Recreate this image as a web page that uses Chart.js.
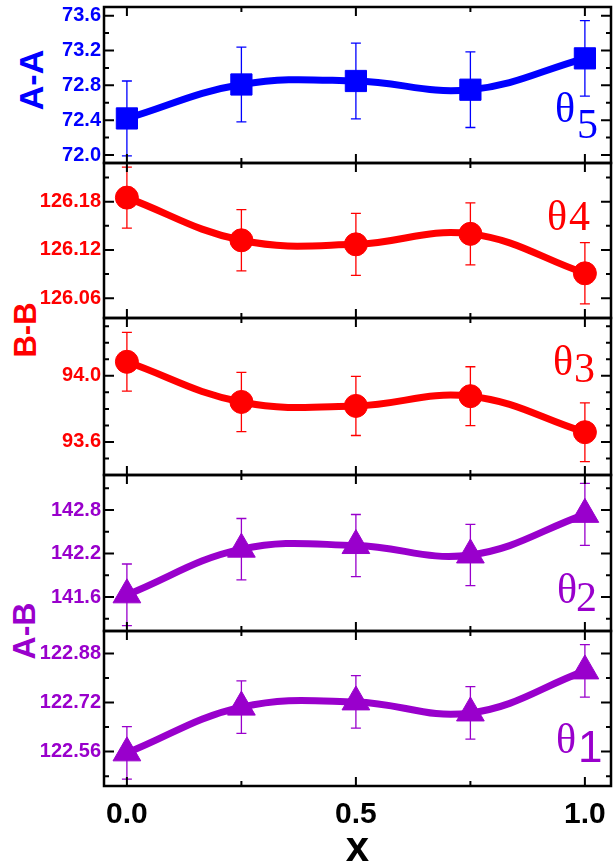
<!DOCTYPE html>
<html>
<head>
<meta charset="utf-8">
<script src="https://cdn.jsdelivr.net/npm/chart.js@4.4.1/dist/chart.umd.min.js"></script>
<style>
  body { margin: 0; background: #fff; overflow: hidden; }
  #wrap { position: relative; width: 616px; height: 868px; }
  #wrap canvas { position: absolute; left: 0; }
  .ylab {
    position: absolute;
    font-family: "Liberation Sans", Arial, sans-serif;
    font-weight: bold;
    line-height: 1;
    white-space: nowrap;
    transform: translate(-50%, -50%) rotate(-90deg);
  }
</style>
</head>
<body>
<div id="wrap">
  <div class="ylab" style="left:31px;top:80px;color:#0000ff;font-size:34px">A-A</div>
  <div class="ylab" style="left:25px;top:330px;color:#ff0000;font-size:31px">B-B</div>
  <div class="ylab" style="left:24px;top:631px;color:#9900cc;font-size:32px">A-B</div>
</div>
<script>
"use strict";
// x positions (shared)
var xValues = [0, 0.25, 0.5, 0.75, 1.0];
var xTicks = [0, 0.5, 1.0];
var xMinorTicks = [0.25, 0.75];

// A-A, theta5
var theta5 = [72.42, 72.81, 72.85, 72.75, 73.11];
var theta5Err = [0.43, 0.43, 0.434, 0.434, 0.434];
var aaTicks = [72.0, 72.4, 72.8, 73.2, 73.6];

// B-B, theta4
var theta4 = [126.185, 126.132, 126.127, 126.140, 126.091];
var theta4Err = [0.038, 0.038, 0.0385, 0.0385, 0.038];
var bb4Ticks = [126.06, 126.12, 126.18];

// B-B, theta3
var theta3 = [94.085, 93.842, 93.818, 93.877, 93.659];
var theta3Err = [0.178, 0.179, 0.179, 0.178, 0.178];
var bb3Ticks = [93.6, 94.0];

// A-B, theta2
var theta2 = [141.63, 142.26, 142.31, 142.18, 142.74];
var theta2Err = [0.425, 0.423, 0.428, 0.423, 0.428];
var ab2Ticks = [141.6, 142.2, 142.8];

// A-B, theta1
var theta1 = [122.556, 122.705, 122.722, 122.686, 122.823];
var theta1Err = [0.0855, 0.0855, 0.0855, 0.0855, 0.0857];
var ab1Ticks = [122.56, 122.72, 122.88];

var BLUE = "#0000ff";
var RED = "#ff0000";
var PURPLE = "#9900cc";

Chart.defaults.font.family = '"Liberation Sans", Arial, sans-serif';

var panels = [
  { top: 7, bottom: 163, color: BLUE, values: theta5, errors: theta5Err, ticks: aaTicks,
    min: 71.908, max: 73.70, minor: 0.2, digits: 1, point: "rect", radius: 15,
    sub: "5", thetaX: 555, thetaY: 115, subX: 577, subY: 131, subFont: '42px "Liberation Serif"' },
  { top: 163, bottom: 318, color: RED, values: theta4, errors: theta4Err, ticks: bb4Ticks,
    min: 126.0355, max: 126.228, minor: 0.03, digits: 2, point: "circle", radius: 11.5,
    sub: "4", thetaX: 547, thetaY: 67, subX: 569, subY: 67, subFont: '42px "Liberation Serif"' },
  { top: 318, bottom: 475, color: RED, values: theta3, errors: theta3Err, ticks: bb3Ticks,
    min: 93.40, max: 94.35, minor: 0.1, digits: 1, point: "circle", radius: 11.5,
    sub: "3", thetaX: 553, thetaY: 57, subX: 574, subY: 64, subFont: '42px "Liberation Serif"' },
  { top: 475, bottom: 631, color: PURPLE, values: theta2, errors: theta2Err, ticks: ab2Ticks,
    min: 141.131, max: 143.283, minor: 0.3, digits: 1, point: "triangle", radius: 16,
    sub: "2", thetaX: 557, thetaY: 128, subX: 576, subY: 136, subFont: '42px "Liberation Serif"' },
  { top: 631, bottom: 786, color: PURPLE, values: theta1, errors: theta1Err, ticks: ab1Ticks,
    min: 122.448, max: 122.953, minor: 0.08, digits: 2, point: "triangle", radius: 16,
    sub: "1", thetaX: 556, thetaY: 122, subX: 578, subY: 131, subFont: '44px "Liberation Sans"' }
];

function makePanelPlugin(p) {
  return {
    id: "panelDeco",
    beforeDatasetsDraw: function (chart) {
      // error bars
      var ctx = chart.ctx;
      var xs = chart.scales.x;
      var ys = chart.scales.y;
      ctx.save();
      ctx.strokeStyle = p.color;
      ctx.lineWidth = 1.3;
      ctx.beginPath();
      xValues.forEach(function (xv, i) {
        var px = xs.getPixelForValue(xv);
        var top = ys.getPixelForValue(p.values[i] + p.errors[i]);
        var bot = ys.getPixelForValue(p.values[i] - p.errors[i]);
        ctx.moveTo(px, top);
        ctx.lineTo(px, bot);
        ctx.moveTo(px - 5, top);
        ctx.lineTo(px + 5, top);
        ctx.moveTo(px - 5, bot);
        ctx.lineTo(px + 5, bot);
      });
      ctx.stroke();
      ctx.restore();
    },
    afterDatasetsDraw: function (chart) {
      var ctx = chart.ctx;
      var a = chart.chartArea;
      var xs = chart.scales.x;
      var ys = chart.scales.y;
      ctx.save();
      ctx.strokeStyle = "#000";
      ctx.lineWidth = 2;
      ctx.beginPath();
      // inward x ticks, top and bottom
      xTicks.concat(xMinorTicks).forEach(function (v) {
        var len = xTicks.indexOf(v) >= 0 ? 9 : 5;
        var px = xs.getPixelForValue(v);
        ctx.moveTo(px, a.bottom);
        ctx.lineTo(px, a.bottom - len);
        ctx.moveTo(px, a.top);
        ctx.lineTo(px, a.top + len);
      });
      // inward y ticks, left and right
      for (var k = Math.ceil(p.min / p.minor); k * p.minor < p.max; k++) {
        var v = k * p.minor;
        if (v <= p.min + p.minor * 0.1) continue;
        var major = p.ticks.some(function (t) { return Math.abs(t - v) < p.minor / 10; });
        var len = major ? 10 : 5;
        var py = ys.getPixelForValue(v);
        ctx.moveTo(a.left, py);
        ctx.lineTo(a.left + len, py);
        ctx.moveTo(a.right, py);
        ctx.lineTo(a.right - len, py);
      }
      ctx.stroke();
      // frame
      ctx.lineWidth = 2.5;
      ctx.strokeRect(a.left, a.top, a.right - a.left, a.bottom - a.top);
      // theta label
      ctx.fillStyle = p.color;
      ctx.textAlign = "left";
      ctx.textBaseline = "alphabetic";
      ctx.font = '42px "Liberation Serif"';
      ctx.fillText("\u03b8", p.thetaX, a.top + p.thetaY);
      ctx.font = p.subFont;
      ctx.fillText(p.sub, p.subX, a.top + p.subY);
      ctx.restore();
    }
  };
}

var wrap = document.getElementById("wrap");
var PAD = 16;

panels.forEach(function (p, n) {
  var isLast = n === panels.length - 1;
  var canvasTop = p.top - PAD;
  var canvasH = isLast ? 868 - canvasTop : p.bottom - p.top + 2 * PAD;
  var canvas = document.createElement("canvas");
  canvas.width = 616;
  canvas.height = canvasH;
  canvas.style.top = canvasTop + "px";
  wrap.appendChild(canvas);

  new Chart(canvas, {
    type: "line",
    data: {
      datasets: [
        {
          data: xValues.map(function (x, i) { return { x: x, y: p.values[i] }; }),
          borderColor: p.color,
          backgroundColor: p.color,
          borderWidth: 7,
          tension: 0.4,
          fill: false,
          pointStyle: p.point,
          pointRadius: p.radius,
          pointBackgroundColor: p.color,
          pointBorderColor: p.color,
          pointBorderWidth: 1,
          clip: false,
        },
      ],
    },
    options: {
      responsive: false,
      animation: false,
      layout: {
        autoPadding: false,
        padding: { left: 0, right: 5, top: PAD, bottom: isLast ? 0 : PAD },
      },
      plugins: {
        legend: { display: false },
        tooltip: { enabled: false },
      },
      scales: {
        x: {
          type: "linear",
          min: -0.05,
          max: 1.057,
          display: isLast,
          afterBuildTicks: function (scale) {
            scale.ticks = xTicks.map(function (v) { return { value: v }; });
          },
          afterFit: function (scale) {
            scale.paddingLeft = 0;
            scale.paddingRight = 0;
            if (isLast) scale.height = 82;
          },
          grid: { display: false, drawTicks: false },
          border: { display: false },
          ticks: {
            padding: 11,
            color: "#000",
            font: { size: 30, weight: "bold" },
            maxRotation: 0,
            callback: function (value) {
              return Number(value).toFixed(1);
            },
          },
          title: {
            display: isLast,
            text: "x",
            color: "#000",
            font: { size: 42, weight: "bold", lineHeight: 0.9 },
            padding: 0,
          },
        },
        y: {
          min: p.min,
          max: p.max,
          afterBuildTicks: function (scale) {
            scale.ticks = p.ticks.map(function (v) { return { value: v }; });
          },
          afterFit: function (scale) {
            scale.paddingTop = 0;
            scale.paddingBottom = 0;
            scale.width = 104;
          },
          grid: { display: false, drawTicks: false },
          border: { display: false },
          ticks: {
            padding: 3,
            color: p.color,
            font: { size: 20, weight: "bold" },
            callback: function (value) {
              return Number(value).toFixed(p.digits);
            },
          },
        },
      },
    },
    plugins: [makePanelPlugin(p)],
  });
});
</script>
</body>
</html>
